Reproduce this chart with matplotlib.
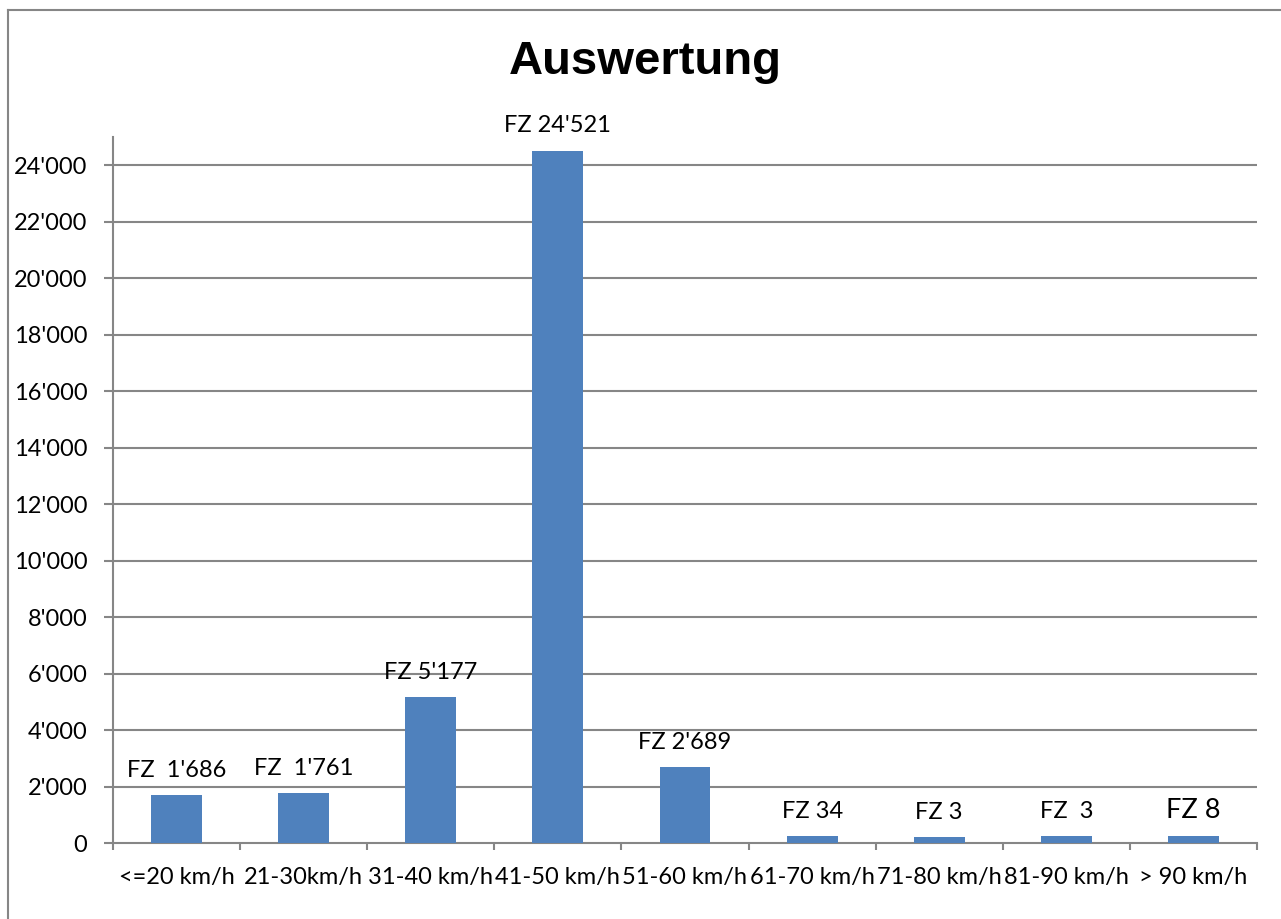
import numpy as np
import matplotlib
matplotlib.use('Agg')
from matplotlib import pyplot as plt
from matplotlib.ticker import FuncFormatter, FixedLocator
from matplotlib.lines import Line2D

categories = ['<=20 km/h', '21-30km/h', '31-40 km/h', '41-50 km/h', '51-60 km/h',
              '61-70 km/h', '71-80 km/h', '81-90 km/h', '> 90 km/h']
values = [1686, 1761, 5177, 24521, 2689, 260, 210, 260, 260]
labels = ["FZ  1'686", "FZ  1'761", "FZ 5'177", "FZ 24'521", "FZ 2'689",
          "FZ 34", "FZ 3", "FZ  3", "FZ 8"]
label_sizes = [17, 17, 17, 17, 17, 17, 17, 17, 19.5]
yticks = list(range(0, 24001, 2000))

blue = '#4F81BD'
gray = '#868686'

plt.rcParams['font.family'] = ['Lato', 'DejaVu Sans']

fig = plt.figure(figsize=(12.81, 9.19), dpi=100)
ax = fig.add_axes([113/1281, 76/919, (1257-113)/1281, (843-137)/919])

x = np.arange(len(categories))
ax.bar(x, values, width=0.4, color=blue, zorder=3)

for xi, v, t, s in zip(x, values, labels, label_sizes):
    ax.annotate(t, (xi, v), xytext=(0, 13), textcoords='offset points',
                ha='center', va='baseline', fontsize=s, color='black')

ax.set_xlim(-0.5, len(categories) - 0.5)
ax.set_ylim(0, 25000)

ax.set_yticks(yticks)
ax.yaxis.set_major_formatter(FuncFormatter(lambda v, p: f"{int(v):,}".replace(',', "'")))
ax.set_xticks(x)
ax.set_xticklabels(categories)
ax.xaxis.set_minor_locator(FixedLocator(np.arange(-0.5, len(categories), 1.0)))

ax.tick_params(axis='y', length=6.5, width=1.5, color=gray, pad=12, labelsize=17, direction='out')
ax.tick_params(axis='x', which='major', length=0, pad=17, labelsize=17)
ax.tick_params(axis='x', which='minor', length=5, width=1.5, color=gray, direction='out')

for v in yticks[1:]:
    ax.axhline(v, color=gray, linewidth=1.5, zorder=1)

for side in ['top', 'right']:
    ax.spines[side].set_visible(False)
for side in ['left', 'bottom']:
    ax.spines[side].set_color(gray)
    ax.spines[side].set_linewidth(1.5)

fig.text(645/1281, 1 - 62/919, 'Auswertung', ha='center', va='center',
         fontsize=34, fontweight='bold', family='Liberation Sans')

# outer chart frame (only left and top visible)
fig.add_artist(Line2D([8/1281, 8/1281], [0, 1 - 10/919], color=gray, linewidth=1.5,
                      transform=fig.transFigure))
fig.add_artist(Line2D([8/1281, 1], [1 - 10/919, 1 - 10/919], color=gray, linewidth=1.5,
                      transform=fig.transFigure))

fig.savefig('out.png', dpi=100, facecolor='white')
